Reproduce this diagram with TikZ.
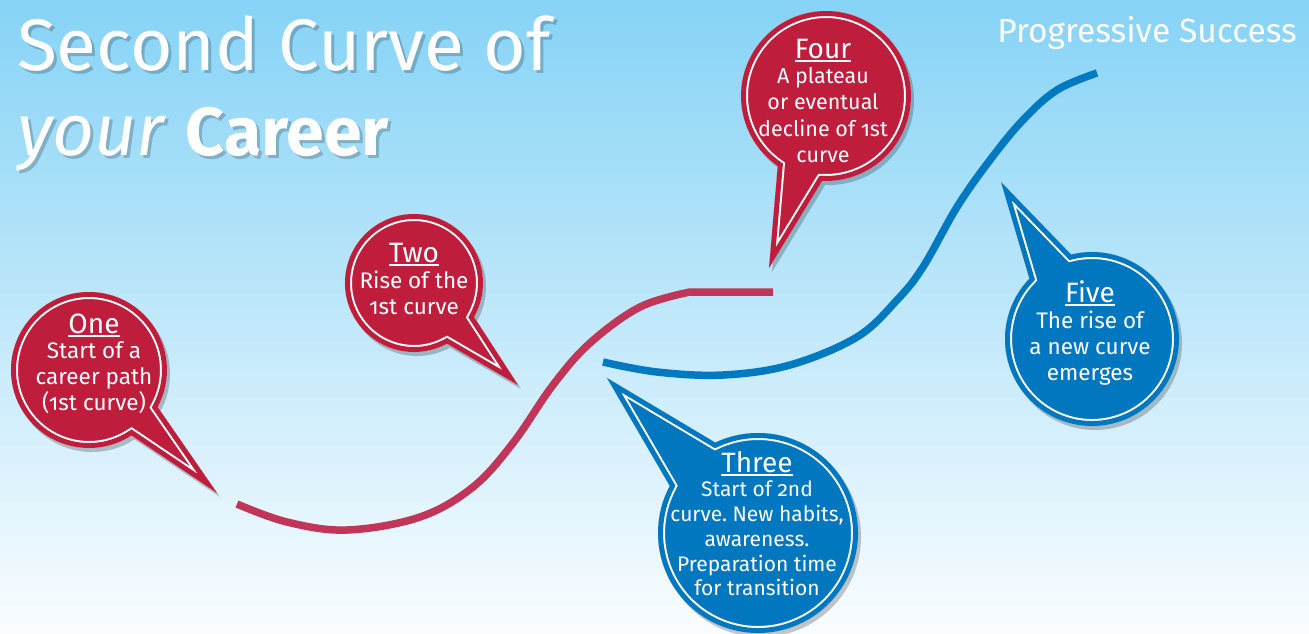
\documentclass[tikz,border=0pt]{standalone}
\usepackage{fontspec}
\setmainfont{Fira Sans}[Numbers=OldStyle]
\usepackage{tikz}
\usetikzlibrary{positioning, calc}
\definecolor{bubblered}{HTML}{BE1E3C}
\definecolor{curvered}{HTML}{C03558}
\definecolor{bubbleblue}{HTML}{0077BF}
\definecolor{curveblue}{HTML}{0079C1}
\definecolor{skytop}{HTML}{86D3F6}
\definecolor{skybottom}{HTML}{FAFDFF}
\frenchspacing

% Outline of a speech bubble: centre, radius, arc from/to, tip of the tail
\newcommand{\bubblepath}[5]{(#5) -- ($(#1)+(#3:#2)$) arc[start angle=#3, end angle=#4, radius=#2] -- cycle}
% Bubble with shadow and white inner rim
\newcommand{\speech}[6]{%
  \fill[black, opacity=.22, transform canvas={shift={(3pt,-4pt)}}] \bubblepath{#1}{#2}{#3}{#4}{#5};
  \fill[#6] \bubblepath{#1}{#2}{#3}{#4}{#5};
  \begin{scope}
    \clip \bubblepath{#1}{#2}{#3}{#4}{#5};
    \draw[white, line width=14pt, miter limit=20] \bubblepath{#1}{#2}{#3}{#4}{#5};
    \draw[#6, line width=10pt, miter limit=20] \bubblepath{#1}{#2}{#3}{#4}{#5};
  \end{scope}}
% Underlined heading
\newcommand{\headul}[1]{\setbox0\hbox{#1}\rlap{\rule[-3.5pt]{\wd0}{1.8pt}}\box0}

\begin{document}
\begin{tikzpicture}[x=1pt, y=-1pt, node distance=5pt,
  head/.style={font=\fontsize{28}{30}\selectfont, text=white, inner sep=0pt, anchor=base},
  body/.style={font=\fontsize{22.5}{26}\selectfont, text=white, align=center, inner sep=0pt},
  titletext/.style={font=\fontsize{73}{80}\selectfont, text=white, inner sep=0pt, anchor=base west},
  titleshadow/.style={titletext, text=black, opacity=.2},
  curve/.style={line width=7.5pt, smooth, tension=.6}]
  \useasboundingbox (0,0) rectangle (1309,633);

  % Himmel
  \fill[top color=skytop, bottom color=skybottom] (0,0) rectangle (1309,633);

  % Titel
  \node[titleshadow] (title1s) at (20,73) {Second Curve of};
  \node[titleshadow] (title2s) at (20,158) {\textit{your} {\fontsize{68}{80}\selectfont\bfseries Career}};
  \node[titletext] (title1) at (17,70) {Second Curve of};
  \node[titletext] (title2) at (17,155) {\textit{your} {\fontsize{68}{80}\selectfont\bfseries Career}};
  \node[font=\fontsize{33.5}{38}\selectfont, text=white, inner sep=0pt, anchor=base east] (progress) at (1297,42) {Progressive Success};

  % Kurven
  \draw[curvered, curve] plot coordinates {(237,504) (287,522) (347,530) (420,517) (473,487) (513,443) (553,385) (590,343) (640,307) (690,292)} -- (773,292);
  \draw[curveblue, curve] plot coordinates {(603,362) (657,372) (723,375) (790,365) (857,337) (897,300) (923,267) (957,207) (990,160) (1023,120) (1057,90) (1097,73)};

  % Mittelpunkte und Spitzen der Blasen
  \coordinate (c1) at (89,370);    \coordinate (tip1) at (217,493);
  \coordinate (c2) at (414,283);   \coordinate (tip2) at (518,385);
  \coordinate (c3) at (758,533);   \coordinate (tip3) at (607,378);
  \coordinate (c4) at (826,96);    \coordinate (tip4) at (769,268);
  \coordinate (c5) at (1092,339);  \coordinate (tip5) at (1001,182);

  \speech{c1}{78}{57}{388.4}{tip1}{bubblered}
  \speech{c2}{69}{61.5}{389.6}{tip2}{bubblered}
  \speech{c3}{100}{244.7}{568.1}{tip3}{bubbleblue}
  \speech{c4}{85}{124.6}{452.6}{tip4}{bubblered}
  \speech{c5}{87}{256.1}{584}{tip5}{bubbleblue}

  % 1
  \node[head] (one) at (94,333) {\headul{One}};
  \node[body, below=of one] (onetext) {Start of a\\career path\\(1st curve)};
  % 2
  \node[head] (two) at (414,262) {\headul{Two}};
  \node[body, below=of two] (twotext) {Rise of the\\1st curve};
  % 3
  \node[head] (three) at (757,472) {\headul{Three}};
  \node[body, below=of three, font=\fontsize{21}{24.8}\selectfont] (threetext) {Start of 2nd\\curve. New habits,\\awareness.\\Preparation time\\for transition};
  % 4
  \node[head] (four) at (823,58) {\headul{Four}};
  \node[body, below=of four, font=\fontsize{21.5}{26.5}\selectfont] (fourtext) {A plateau\\or eventual\\decline of 1st\\curve};
  % 5
  \node[head] (five) at (1090,302) {\headul{Five}};
  \node[body, below=of five] (fivetext) {The rise of\\a new curve\\emerges};

\end{tikzpicture}
\end{document}
